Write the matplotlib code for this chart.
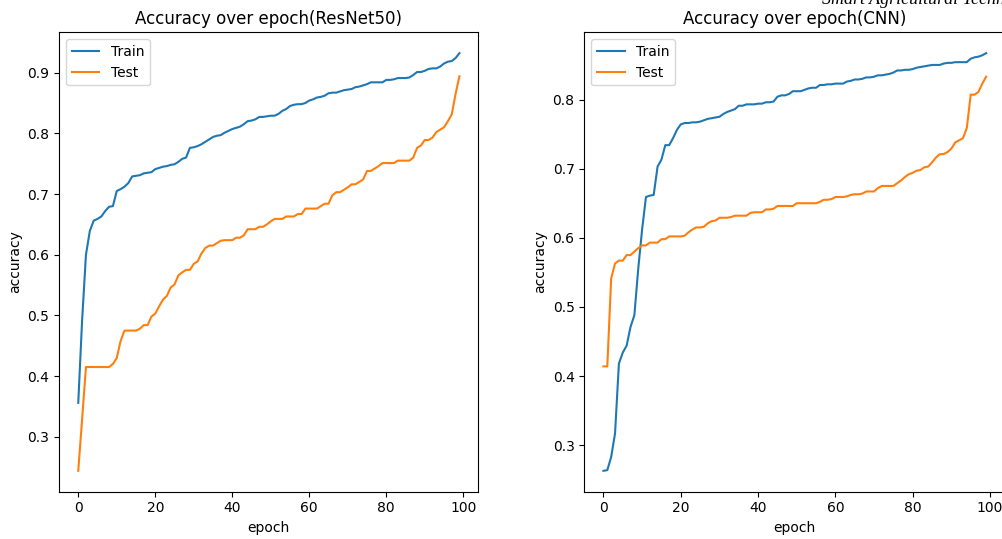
import matplotlib
matplotlib.use("Agg")
import matplotlib.pyplot as plt

epochs = list(range(100))

resnet_train = [
    0.356, 0.492, 0.600, 0.639, 0.656, 0.659, 0.663, 0.672, 0.679, 0.680,
    0.705, 0.708, 0.712, 0.718, 0.729, 0.730, 0.731, 0.734, 0.735, 0.736,
    0.741, 0.743, 0.745, 0.746, 0.748, 0.749, 0.753, 0.758, 0.760, 0.776,
    0.777, 0.779, 0.782, 0.786, 0.790, 0.794, 0.796, 0.797, 0.801, 0.804,
    0.807, 0.809, 0.811, 0.815, 0.820, 0.821, 0.823, 0.827, 0.827, 0.828,
    0.829, 0.829, 0.832, 0.837, 0.840, 0.845, 0.847, 0.848, 0.848, 0.850,
    0.854, 0.856, 0.859, 0.860, 0.862, 0.866, 0.867, 0.867, 0.869, 0.871,
    0.872, 0.873, 0.876, 0.877, 0.879, 0.881, 0.884, 0.884, 0.884, 0.884,
    0.888, 0.888, 0.889, 0.891, 0.891, 0.891, 0.892, 0.896, 0.901, 0.901,
    0.903, 0.906, 0.907, 0.907, 0.910, 0.915, 0.918, 0.919, 0.924, 0.932,
]
resnet_test = [
    0.244, 0.329, 0.415, 0.415, 0.415, 0.415, 0.415, 0.415, 0.415, 0.420,
    0.430, 0.458, 0.475, 0.475, 0.475, 0.475, 0.478, 0.484, 0.484, 0.498,
    0.503, 0.515, 0.526, 0.532, 0.546, 0.551, 0.566, 0.571, 0.575, 0.575,
    0.585, 0.589, 0.602, 0.611, 0.615, 0.615, 0.619, 0.623, 0.624, 0.624,
    0.624, 0.628, 0.628, 0.632, 0.642, 0.642, 0.642, 0.646, 0.646, 0.650,
    0.655, 0.659, 0.659, 0.659, 0.663, 0.663, 0.663, 0.667, 0.667, 0.676,
    0.676, 0.676, 0.676, 0.680, 0.684, 0.684, 0.698, 0.703, 0.703, 0.707,
    0.711, 0.716, 0.716, 0.720, 0.724, 0.738, 0.738, 0.742, 0.746, 0.751,
    0.751, 0.751, 0.751, 0.755, 0.755, 0.755, 0.755, 0.760, 0.776, 0.780,
    0.789, 0.789, 0.793, 0.802, 0.806, 0.810, 0.820, 0.831, 0.865, 0.894,
]

cnn_train = [
    0.263, 0.264, 0.283, 0.317, 0.418, 0.434, 0.444, 0.471, 0.488, 0.555,
    0.612, 0.659, 0.661, 0.662, 0.703, 0.713, 0.734, 0.734, 0.744, 0.756,
    0.764, 0.766, 0.766, 0.767, 0.767, 0.768, 0.770, 0.772, 0.773, 0.774,
    0.775, 0.779, 0.782, 0.784, 0.786, 0.791, 0.791, 0.793, 0.793, 0.793,
    0.794, 0.794, 0.796, 0.796, 0.797, 0.804, 0.806, 0.806, 0.808, 0.812,
    0.812, 0.812, 0.814, 0.816, 0.817, 0.817, 0.821, 0.821, 0.822, 0.822,
    0.823, 0.823, 0.823, 0.826, 0.827, 0.829, 0.829, 0.830, 0.832, 0.832,
    0.833, 0.835, 0.835, 0.836, 0.837, 0.839, 0.842, 0.842, 0.843, 0.843,
    0.844, 0.846, 0.847, 0.848, 0.849, 0.850, 0.850, 0.850, 0.852, 0.853,
    0.853, 0.854, 0.854, 0.854, 0.854, 0.859, 0.861, 0.862, 0.864, 0.867,
]
cnn_test = [
    0.414, 0.414, 0.541, 0.563, 0.567, 0.567, 0.575, 0.575, 0.580, 0.585,
    0.589, 0.589, 0.593, 0.593, 0.593, 0.598, 0.598, 0.602, 0.602, 0.602,
    0.602, 0.603, 0.608, 0.612, 0.615, 0.615, 0.616, 0.621, 0.624, 0.625,
    0.629, 0.629, 0.629, 0.630, 0.632, 0.632, 0.632, 0.632, 0.636, 0.637,
    0.637, 0.637, 0.641, 0.641, 0.642, 0.646, 0.646, 0.646, 0.646, 0.646,
    0.650, 0.650, 0.650, 0.650, 0.650, 0.650, 0.652, 0.655, 0.655, 0.656,
    0.659, 0.659, 0.659, 0.660, 0.662, 0.663, 0.663, 0.664, 0.667, 0.667,
    0.667, 0.672, 0.675, 0.675, 0.675, 0.675, 0.679, 0.683, 0.688, 0.692,
    0.694, 0.697, 0.698, 0.702, 0.703, 0.709, 0.716, 0.721, 0.721, 0.724,
    0.729, 0.738, 0.741, 0.744, 0.759, 0.807, 0.807, 0.811, 0.823, 0.833,
]

titles = ["Accuracy over epoch(ResNet50)", "Accuracy over epoch(CNN)"]
journal_text = "Smart Agricultural Technology"


def draw(ax, train, test, title):
    ax.plot(epochs, train, label="Train")
    ax.plot(epochs, test, label="Test")
    ax.set_title(title)
    ax.set(xlabel="epoch", ylabel="accuracy")
    ax.legend(loc="upper left")


def main():
    W, H = 1003, 539
    fig = plt.figure(figsize=(W / 100, H / 100), dpi=100)

    bottom = 1 - 491.7 / H
    height = (491.7 - 32.3) / H
    ax1 = fig.add_axes([59.2 / W, bottom, 419.3 / W, height])
    ax2 = fig.add_axes([584.3 / W, bottom, 421 / W, height])

    draw(ax1, resnet_train, resnet_test, titles[0])
    draw(ax2, cnn_train, cnn_test, titles[1])

    # journal header, clipped at the top edge like in the source page
    fig.text(821.7 / W, 1 - 4 / H, journal_text, family="Liberation Serif",
             style="italic", fontsize=13, va="baseline", ha="left")

    fig.savefig("out.png", dpi=100)


if __name__ == "__main__":
    main()
